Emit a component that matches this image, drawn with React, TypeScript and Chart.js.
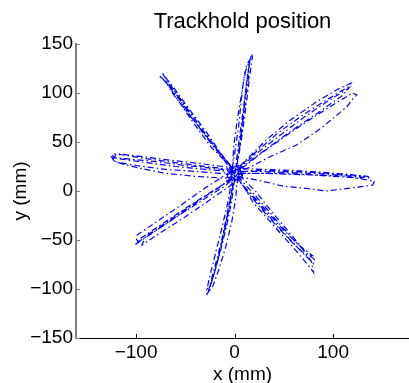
import React, { useEffect, useRef } from "react";
import { Chart, registerables } from "chart.js";

Chart.register(...registerables);

// Tick values
const xTickValues = [-100, 0, 100];
const yTickValues = [-150, -100, -50, 0, 50, 100, 150];

// Trajectories (mm), one pair of arrays per reach direction
const upX = [0, 3, 7, 11, 14, 17, 18, 15, 12, 8, 4, 1, -2, -1, 3, 8, 12, 16, 15, 12, 9, 6, 3, 0, 2, 6, 10, 14, 15, 10, 7, 4, 0, -3];
const upY = [18, 40, 70, 100, 125, 140, 137, 115, 90, 60, 35, 20, 22, 45, 75, 105, 128, 135, 130, 110, 80, 55, 30, 17, 25, 50, 85, 115, 132, 120, 95, 65, 38, 20];

const upLeftX = [-2, -15, -30, -45, -60, -74, -72, -58, -42, -27, -12, 0, -4, -24, -40, -55, -69, -77, -70, -55, -38, -24, -10, 1, -1, -14, -29, -45, -62, -71, -64, -48, -32, -16, -3];
const upLeftY = [22, 40, 62, 82, 103, 121, 118, 98, 76, 55, 35, 22, 25, 45, 67, 89, 110, 118, 112, 92, 68, 50, 32, 20, 18, 36, 55, 77, 103, 114, 101, 80, 60, 40, 24];

const leftX = [-3, -30, -60, -90, -115, -124, -123, -110, -80, -50, -20, -2, -4, -35, -70, -100, -120, -124, -112, -95, -70, -40, -10, 0, -5, -30, -60, -90, -118, -125, -122, -100, -70, -40, -15, -2];
const leftY = [22, 25, 29, 33, 37, 38, 34, 33, 30, 26, 23, 20, 24, 28, 32, 36, 38, 31, 27, 23, 18, 15, 13, 15, 20, 22, 25, 29, 33, 35, 30, 26, 22, 20, 18, 19];

const downLeftX = [-3, -25, -50, -75, -95, -100, -98, -80, -55, -30, -8, -7, -30, -54, -80, -99, -100, -82, -57, -32, -10, -2, -2, -25, -51, -76, -94, -90, -65, -40, -15, -3];
const downLeftY = [12, -2, -20, -37, -50, -53, -50, -38, -21, -5, 9, 18, 3, -14, -32, -45, -54, -42, -25, -9, 5, 12, 7, -9, -27, -43, -55, -46, -29, -12, 4, 14];

const downX = [0, -3, -8, -14, -20, -26, -29, -26, -21, -15, -10, -5, -1, 3, 1, -3, -9, -16, -22, -27, -23, -17, -12, -7, -2, -3, -7, -13, -19, -25, -28, -24, -18, -13, -8, -3, 0];
const downY = [12, -10, -35, -60, -82, -100, -107, -102, -85, -62, -40, -15, 8, 14, -8, -32, -57, -80, -97, -104, -88, -66, -45, -20, 5, 10, -12, -38, -62, -86, -100, -95, -75, -52, -28, 0, 14];

const downRightX = [3, 15, 30, 45, 60, 75, 81, 80, 68, 52, 36, 20, 5, 7, 21, 36, 51, 66, 78, 80, 78, 65, 50, 35, 19, 4, 2, 17, 33, 49, 65, 79, 73, 58, 42, 27, 12, 2];
const downRightY = [15, 2, -15, -33, -50, -65, -70, -74, -62, -45, -27, -8, 10, 14, 0, -19, -37, -55, -72, -83, -80, -64, -47, -30, -12, 13, 12, -3, -21, -39, -55, -66, -66, -52, -35, -18, 0, 15];

const rightX = [3, 25, 50, 80, 110, 130, 138, 135, 110, 80, 50, 20, 3, 4, 30, 60, 90, 115, 130, 142, 140, 125, 110, 93, 70, 49, 28, 8, 5, 30, 60, 90, 115, 132, 128, 100, 70, 40, 15, 2];
const rightY = [20, 20, 19, 18, 16, 14, 13, 15, 17, 19, 20, 21, 19, 18, 18, 17, 16, 15, 12, 10, 6, 4, 2, 0, 3, 5, 10, 14, 23, 22, 21, 19, 17, 15, 13, 15, 17, 18, 18, 17];

const upRightX = [5, 15, 32, 56, 83, 105, 118, 115, 95, 70, 45, 22, 6, 6, 25, 50, 75, 100, 120, 124, 120, 114, 89, 63, 36, 15, 3, 4, 22, 45, 70, 95, 116, 110, 85, 60, 35, 15, 4];
const upRightY = [25, 35, 52, 72, 91, 104, 110, 106, 94, 78, 60, 40, 26, 22, 37, 55, 72, 88, 100, 98, 94, 86, 65, 47, 35, 24, 20, 23, 38, 56, 75, 92, 105, 98, 80, 63, 45, 30, 22];

// Hold position jitter around the start target
const holdX = [0, -6, 4, 8, -2, -8, 2, 6, -4, 0, 7, -7, 3, 5, -5, -3, 8, 0, -6, 6, 1];
const holdY = [18, 24, 26, 16, 10, 16, 22, 12, 14, 26, 22, 20, 8, 20, 26, 12, 20, 16, 18, 24, 14];

const traces: [number[], number[]][] = [
  [upX, upY],
  [upLeftX, upLeftY],
  [leftX, leftY],
  [downLeftX, downLeftY],
  [downX, downY],
  [downRightX, downRightY],
  [rightX, rightY],
  [upRightX, upRightY],
  [holdX, holdY],
];

const FONT = "'Liberation Sans', Arial, Helvetica, sans-serif";
const fmt = (v: number) => (v < 0 ? "\u2212" + Math.abs(v) : String(v));

const inwardTicks = {
  id: "inwardTicks",
  afterDraw(chart: any) {
    const { ctx, chartArea, scales } = chart;
    ctx.save();
    ctx.lineWidth = 1;
    ctx.strokeStyle = "#000";
    ctx.beginPath();
    for (const v of xTickValues) {
      const px = Math.round(scales.x.getPixelForValue(v)) + 0.5;
      ctx.moveTo(px, chartArea.bottom);
      ctx.lineTo(px, chartArea.bottom - 4);
    }
    ctx.stroke();
    ctx.strokeStyle = "#808080";
    ctx.beginPath();
    for (const v of yTickValues) {
      const py = Math.round(scales.y.getPixelForValue(v)) + 0.5;
      ctx.moveTo(chartArea.left, py);
      ctx.lineTo(chartArea.left + 4, py);
    }
    ctx.stroke();
    ctx.restore();
  },
};

export default function App() {
  const ref = useRef<HTMLCanvasElement>(null);
  useEffect(() => {
    if (!ref.current) return;
    const chart = new Chart(ref.current, {
      type: "scatter",
      data: {
        datasets: traces.map(([xs, ys]) => ({
          data: xs.map((x, i) => ({ x, y: ys[i] })),
          showLine: true,
          borderColor: "#0000ff",
          borderWidth: 1.2,
          borderDash: [6, 3, 1.5, 3],
          pointRadius: 0,
          fill: false,
          tension: 0,
        })),
      },
      options: {
        animation: false,
        responsive: false,
        layout: { padding: 0 },
        plugins: {
          legend: { display: false },
          tooltip: { enabled: false },
          title: {
            display: true,
            text: "Trackhold position",
            fullSize: false,
            color: "#000",
            font: { family: FONT, size: 22, weight: "normal", lineHeight: 1.2 },
            padding: { top: 8.4, bottom: 9.2 },
          },
        },
        scales: {
          x: {
            type: "linear",
            min: -161,
            max: 177,
            afterBuildTicks: (s: any) => {
              s.ticks = xTickValues.map((v) => ({ value: v }));
            },
            afterFit: (s: any) => {
              s.height = 45;
            },
            grid: { display: false, drawTicks: false },
            border: { display: true, color: "#000", width: 1 },
            ticks: {
              color: "#000",
              padding: 3.6,
              maxRotation: 0,
              font: { family: FONT, size: 19 },
              callback: (v: any) => fmt(Number(v)),
            },
            title: {
              display: true,
              text: "x (mm)",
              color: "#000",
              font: { family: FONT, size: 19, lineHeight: 1.2 },
              padding: { top: 0, bottom: -3 },
            },
          },
          y: {
            type: "linear",
            min: -150,
            max: 150,
            afterBuildTicks: (s: any) => {
              s.ticks = yTickValues.map((v) => ({ value: v }));
            },
            afterFit: (s: any) => {
              s.width = 76;
            },
            grid: { display: false, drawTicks: false },
            border: { display: true, color: "#808080", width: 2 },
            ticks: {
              color: "#000",
              padding: 3,
              font: { family: FONT, size: 19 },
              callback: (v: any) => fmt(Number(v)),
            },
            title: {
              display: true,
              text: "y (mm)",
              color: "#000",
              font: { family: FONT, size: 19, lineHeight: 1.2 },
              padding: { top: 9, bottom: 0 },
            },
          },
        },
      },
      plugins: [inwardTicks],
    });
    return () => chart.destroy();
  }, []);
  return (
    <div style={{ position: "fixed", left: 0, top: 0, width: 409, height: 383, background: "#fff" }}>
      <canvas ref={ref} width={409} height={383} style={{ width: 409, height: 383, display: "block" }} />
    </div>
  );
}
